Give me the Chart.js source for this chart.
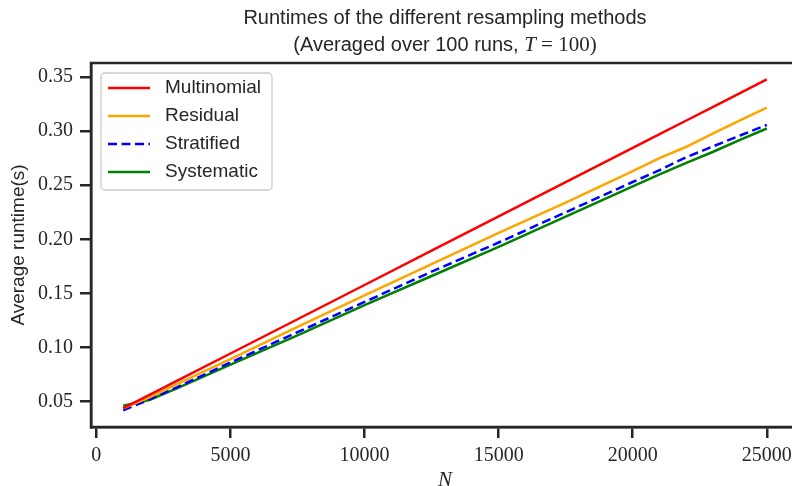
<!DOCTYPE html>
<html>
<head>
<meta charset="UTF-8" />
<title>Resampling runtimes</title>
<script src="https://cdn.jsdelivr.net/npm/chart.js@4"></script>
<style>
  html, body { margin: 0; padding: 0; background: #fff; overflow: hidden; }
  #wrap { width: 800px; height: 486px; }
</style>
</head>
<body>
<div id="wrap"><canvas id="chart"></canvas></div>
<script>
// particle counts N and averaged runtimes (seconds)
const particles = [1000, 2000, 3000, 5000, 7500, 10000, 12500, 15000, 17500, 20000, 21000, 22000, 23000, 24000, 25000];
const multinomial = [0.0437, 0.0562, 0.069, 0.0943, 0.126, 0.1577, 0.1894, 0.2211, 0.2528, 0.2845, 0.2972, 0.3099, 0.3225, 0.3352, 0.348];
const residual    = [0.0435, 0.054, 0.066, 0.089, 0.119, 0.148, 0.177, 0.206, 0.234, 0.263, 0.275, 0.2856, 0.298, 0.310, 0.3217];
const stratified  = [0.0417, 0.052, 0.063, 0.086, 0.114, 0.142, 0.170, 0.197, 0.225, 0.253, 0.264, 0.276, 0.286, 0.296, 0.3058];
const systematic  = [0.046, 0.0515, 0.062, 0.084, 0.111, 0.139, 0.166, 0.193, 0.221, 0.249, 0.260, 0.2707, 0.281, 0.292, 0.3025];

const xTicks = [0, 5000, 10000, 15000, 20000, 25000];
const yTicks = [0.05, 0.10, 0.15, 0.20, 0.25, 0.30, 0.35];

const ink = '#262626';
const sans = '"Liberation Sans", "DejaVu Sans", sans-serif';
const serif = '"Liberation Serif", "DejaVu Serif", serif';

function pts(ys) {
    return particles.map((n, i) => ({ x: n, y: ys[i] }));
}

// full box around the axes (chart.js only draws left/bottom)
const frame = {
    id: 'frame',
    afterDatasetsDraw(chart) {
        const a = chart.chartArea, c = chart.ctx;
        c.save();
        c.strokeStyle = ink;
        c.lineWidth = 2.5;
        c.strokeRect(a.left, a.top, a.right - a.left, a.bottom - a.top);
        c.restore();
    }
};

// two-line title, second line mixes text and math fonts
const title = {
    id: 'mixedTitle',
    afterDraw(chart) {
        const a = chart.chartArea, c = chart.ctx;
        const cx = (a.left + a.right) / 2;
        c.save();
        c.fillStyle = ink;
        c.textBaseline = 'middle';
        c.textAlign = 'center';
        c.font = '20px ' + sans;
        c.fillText('Runtimes of the different resampling methods', cx, 18);

        const parts = [
            { t: '(Averaged over 100 runs, ', f: '20px ' + sans },
            { t: 'T', f: 'italic 21px ' + serif },
            { t: ' = 100)', f: '21px ' + serif }
        ];
        let w = 0;
        parts.forEach(p => { c.font = p.f; w += c.measureText(p.t).width; });
        let x = cx - w / 2;
        c.textAlign = 'left';
        parts.forEach(p => { c.font = p.f; c.fillText(p.t, x, 45); x += c.measureText(p.t).width; });
        c.restore();
    }
};

// legend box in the upper-left corner of the plot
const boxLegend = {
    id: 'boxLegend',
    afterDraw(chart) {
        const a = chart.chartArea, c = chart.ctx;
        const x0 = a.left + 10, y0 = a.top + 10, w = 171, h = 117;
        c.save();
        c.beginPath();
        c.roundRect(x0, y0, w, h, 4);
        c.fillStyle = 'rgba(255,255,255,0.8)';
        c.fill();
        c.strokeStyle = '#cccccc';
        c.lineWidth = 1.3;
        c.stroke();
        chart.data.datasets.forEach((ds, i) => {
            const y = y0 + 15 + i * 28;
            c.beginPath();
            c.setLineDash(ds.borderDash || []);
            c.strokeStyle = ds.borderColor;
            c.lineWidth = ds.borderWidth;
            c.moveTo(x0 + 7, y);
            c.lineTo(x0 + 49, y);
            c.stroke();
            c.setLineDash([]);
            c.fillStyle = ink;
            c.font = '19px ' + sans;
            c.textBaseline = 'middle';
            c.fillText(ds.label, x0 + 64, y);
        });
        c.restore();
    }
};

const line = (label, ys, color, dash) => ({
    label: label,
    data: pts(ys),
    borderColor: color,
    backgroundColor: color,
    borderWidth: 2.5,
    borderDash: dash || [],
    pointRadius: 0,
    tension: 0,
    fill: false
});

new Chart(document.getElementById('chart'), {
    type: 'line',
    data: {
        datasets: [
            line('Multinomial', multinomial, '#ff0000'),
            line('Residual', residual, '#ffa500'),
            line('Stratified', stratified, '#0000ff', [9, 4.5]),
            line('Systematic', systematic, '#008000')
        ]
    },
    options: {
        responsive: true,
        maintainAspectRatio: false,
        animation: false,
        layout: { padding: { top: 63, right: 1, left: 0, bottom: 0 } },
        plugins: {
            legend: { display: false },
            title: { display: false },
            tooltip: { enabled: false }
        },
        scales: {
            x: {
                type: 'linear',
                min: -200,
                max: 26200,
                afterBuildTicks: s => { s.ticks = xTicks.map(v => ({ value: v })); },
                afterFit: s => { s.height = 59; },
                grid: { drawOnChartArea: false, drawTicks: true, tickLength: 11, color: ink, lineWidth: 2.5 },
                border: { display: true, color: ink, width: 2.5 },
                ticks: { color: ink, padding: 6, maxRotation: 0, font: { family: serif, size: 20 }, callback: v => String(v) },
                title: { display: true, text: 'N', color: ink, padding: { top: 0, bottom: -7 }, font: { family: serif, size: 21, style: 'italic' } }
            },
            y: {
                min: 0.0263,
                max: 0.3631,
                afterBuildTicks: s => { s.ticks = yTicks.map(v => ({ value: v })); },
                afterFit: s => { s.width = 91; },
                grid: { drawOnChartArea: false, drawTicks: true, tickLength: 11, color: ink, lineWidth: 2.5 },
                border: { display: true, color: ink, width: 2.5 },
                ticks: { color: ink, padding: 7, font: { family: serif, size: 20 }, callback: v => v.toFixed(2) },
                title: { display: true, text: 'Average runtime(s)', color: ink, padding: { top: 7, bottom: 0 }, font: { family: sans, size: 19 } }
            }
        }
    },
    plugins: [frame, title, boxLegend]
});
</script>
</body>
</html>
